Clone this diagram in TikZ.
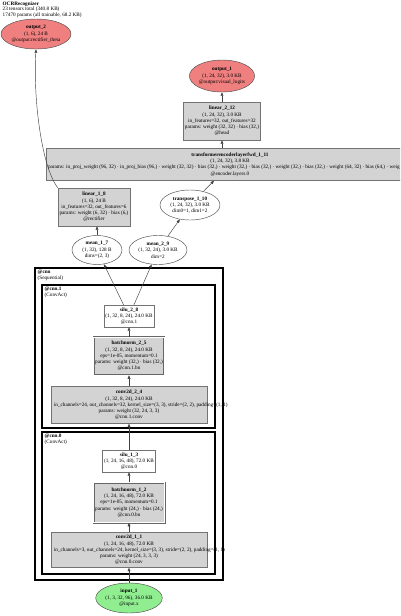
\documentclass[tikz,border=0pt]{standalone}
\usepackage{fontspec}
\setmainfont{Liberation Serif}
\usetikzlibrary{arrows.meta,shapes.geometric}
\definecolor{outfill}{HTML}{F08080}
\definecolor{infill}{HTML}{90EE90}
\definecolor{opfill}{HTML}{D3D3D3}
\tikzset{
  base/.style={font=\fontsize{5.2}{6.3}\selectfont, align=center, inner sep=1.5pt},
  opbox/.style={base, rectangle, draw=black!55, fill=opfill, line width=0.45pt},
  actbox/.style={base, rectangle, draw=black!55, fill=white, line width=0.45pt},
  bnbox/.style={base, rectangle, draw=black!60, fill=opfill, line width=0.5pt, double=white, double distance=1pt},
  outell/.style={base, ellipse, draw=black!70, fill=outfill, line width=0.45pt, inner sep=0pt},
  inell/.style={base, ellipse, draw=black!70, fill=infill, line width=0.45pt, inner sep=0pt},
  opell/.style={base, ellipse, draw=black!70, fill=white, line width=0.45pt, inner sep=0pt},
  clabel/.style={base, anchor=north west, align=left, inner sep=0.5pt},
  edge/.style={draw=black!75, line width=0.45pt, -{Triangle[length=3.5pt,width=2.8pt]}},
}
\begin{document}
\begin{tikzpicture}[x=1pt,y=-1pt]
\useasboundingbox (0,0) rectangle (400,616);
\clip (0,0) rectangle (400,616);

% clusters
\draw[black, line width=1.6pt] (35,268) rectangle (223,580);
\draw[black, line width=1.2pt] (42,285) rectangle (215,428);
\draw[black, line width=1.2pt] (42,432) rectangle (215,574);
\node[clabel] (cnnlab) at (37,269.5) {\textbf{@cnn}\\(Sequential)};
\node[clabel] (cnn1lab) at (44,286.5) {\textbf{@cnn.1}\\(ConvAct)};
\node[clabel] (cnn0lab) at (44,433.5) {\textbf{@cnn.0}\\(ConvAct)};

% nodes
\node[outell, minimum width=70, minimum height=30] (out2) at (36,34)
  {\textbf{output\_2}\\(1, 6), 24 B\\@output:rectifier\_theta};
\node[outell, minimum width=64, minimum height=32] (out1) at (222,76)
  {\textbf{output\_1}\\(1, 24, 32), 3.0 KB\\@output:visual\_logits};
\node[opbox, minimum width=72, minimum height=38] (l212) at (222,121)
  {\textbf{linear\_2\_12}\\(1, 24, 32), 3.0 KB\\in\_features=32, out\_features=32\\params: weight (32, 32) · bias (32,)\\@head};
\node[opbox, minimum width=368, minimum height=32] (tr) at (230,164.5)
  {\textbf{transformerencoderlayerfwd\_1\_11}\\(1, 24, 32), 3.8 KB\\\makebox[364pt][l]{params: in\_proj\_weight (96, 32) · in\_proj\_bias (96,) · weight (32, 32) · bias (32,) · weight (32,) · bias (32,) · weight (32,) · bias (32,) · weight (64, 32) · bias (64,) · weig}\\@encoder.layers.0};
\node[opbox, minimum width=66, minimum height=38] (l18) at (94,207)
  {\textbf{linear\_1\_8}\\(1, 6), 24 B\\in\_features=32, out\_features=6\\params: weight (6, 32) · bias (6,)\\@rectifier};
\node[opell, minimum width=60, minimum height=30] (tp) at (190,205)
  {\textbf{transpose\_1\_10}\\(1, 24, 32), 3.0 KB\\dim0=1, dim1=2};
\node[opell, minimum width=50, minimum height=29] (m17) at (97,250)
  {\textbf{mean\_1\_7}\\(1, 32), 128 B\\dims=(2, 3)};
\node[opell, minimum width=58, minimum height=29] (m29) at (158,250)
  {\textbf{mean\_2\_9}\\(1, 32, 24), 3.0 KB\\dim=2};

\node[actbox, minimum width=50, minimum height=22] (s28) at (129,316)
  {\textbf{silu\_2\_8}\\(1, 32, 8, 24), 24.0 KB\\@cnn.1};
\node[bnbox, minimum width=70, minimum height=38] (bn25) at (129,356)
  {\textbf{batchnorm\_2\_5}\\(1, 32, 8, 24), 24.0 KB\\eps=1e-05, momentum=0.1\\params: weight (32,) · bias (32,)\\@cnn.1.bn};
\node[opbox, minimum width=156, minimum height=37] (c24) at (129,405)
  {\textbf{conv2d\_2\_4}\\(1, 32, 8, 24), 24.0 KB\\\makebox[150pt][l]{in\_channels=24, out\_channels=32, kernel\_size=(3, 3), stride=(2, 2), padding=(1, 1)}\\params: weight (32, 24, 3, 3)\\@cnn.1.conv};
\node[actbox, minimum width=50, minimum height=22] (s13) at (129,461)
  {\textbf{silu\_1\_3}\\(1, 24, 16, 48), 72.0 KB\\@cnn.0};
\node[bnbox, minimum width=71, minimum height=40] (bn12) at (129,502.5)
  {\textbf{batchnorm\_1\_2}\\(1, 24, 16, 48), 72.0 KB\\eps=1e-05, momentum=0.1\\params: weight (24,) · bias (24,)\\@cnn.0.bn};
\node[opbox, minimum width=156, minimum height=35] (c11) at (129,550)
  {\textbf{conv2d\_1\_1}\\(1, 24, 16, 48), 72.0 KB\\\makebox[150pt][l]{in\_channels=3, out\_channels=24, kernel\_size=(3, 3), stride=(2, 2), padding=(1, 1)}\\params: weight (24, 3, 3, 3)\\@cnn.0.conv};
\node[inell, minimum width=64, minimum height=30] (in1) at (129,598)
  {\textbf{input\_1}\\(1, 3, 32, 96), 36.0 KB\\@input.x};

% title (on top)
\node[base, anchor=north west, align=left, inner sep=0.5pt, font=\fontsize{5.2}{5.6}\selectfont] (title) at (2,1)
  {\textbf{OCRRecognizer}\\23 tensors total (340.8 KB)\\17470 params (all trainable, 68.2 KB)};

% edges
\draw[edge] (in1) -- (c11);
\draw[edge] (c11) -- (bn12);
\draw[edge] (bn12) -- (s13);
\draw[edge] (s13) -- (c24);
\draw[edge] (c24) -- (bn25);
\draw[edge] (bn25) -- (s28);
\draw[edge] (s28) -- (m17);
\draw[edge] (s28) -- (m29);
\draw[edge] (m17.north) -- (m17.north |- l18.south);
\draw[edge] (m29) -- (tp);
\draw[edge] (tp) -- (tr);
\draw[edge] (l212 |- tr.north) -- (l212.south);
\draw[edge] (l212) -- (out1);
\draw[edge] (l18.north west) .. controls (42,168) and (33,100) .. (out2.south);
\end{tikzpicture}
\end{document}
